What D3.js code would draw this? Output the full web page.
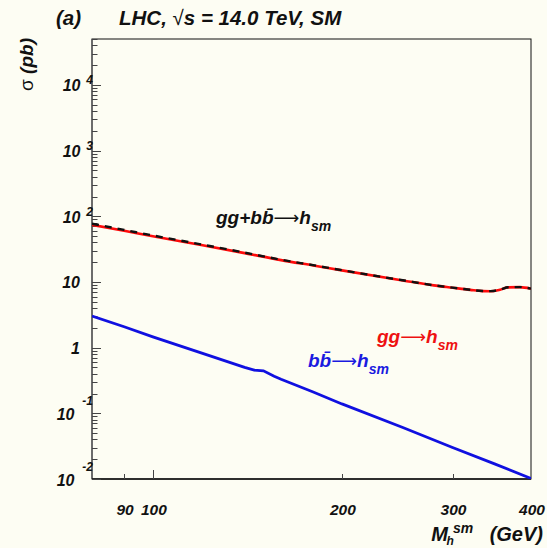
<!DOCTYPE html>
<html>
<head>
<meta charset="utf-8">
<script src="https://cdn.jsdelivr.net/npm/d3@7/dist/d3.min.js"></script>
<style>
  html, body { margin: 0; padding: 0; background: #fdfdf3; }
  svg { display: block; }
  text { font-family: "Liberation Sans", Arial, Helvetica, sans-serif; font-weight: bold; font-style: italic; }
</style>
</head>
<body>
<svg id="chart" width="547" height="548"></svg>
<script>
// Higgs production cross sections at the LHC (sqrt(s) = 14 TeV), Standard Model
const totalMass  = [80, 90, 100, 120, 140, 160, 180, 200, 250, 280, 300, 320, 335, 345, 357, 368, 384, 400];
const totalXsec  = [77, 62, 51, 37, 28, 21.8, 18.0, 15.1, 10.6, 8.9, 8.2, 7.6, 7.27, 7.25, 7.64, 8.3, 8.35, 7.9];

const ggMass     = [80, 90, 100, 120, 140, 160, 180, 200, 250, 280, 300, 320, 335, 345, 357, 368, 384, 400];
const ggXsec     = [74, 60, 49.5, 36.2, 27.5, 21.5, 17.8, 15.0, 10.55, 8.86, 8.17, 7.58, 7.25, 7.23, 7.62, 8.28, 8.33, 7.89];

const bbMass     = [80, 90, 100, 120, 140, 145, 150, 156, 160, 180, 200, 250, 300, 350, 400];
const bbXsec     = [3.03, 2.08, 1.46, 0.82, 0.50, 0.455, 0.443, 0.368, 0.330, 0.211, 0.139, 0.0607, 0.0301, 0.0170, 0.0102];

const xTickValues = [90, 100, 200, 300, 400];
const xTickLabels = ["90", "100", "200", "300", "400"];
const yMajorTicks = [1e-2, 1e-1, 1, 10, 1e2, 1e3, 1e4];

const svg = d3.select("#chart");
const W = 547, H = 548;
const m = { left: 92, right: 531, top: 39, bottom: 479 };

svg.append("rect").attr("width", W).attr("height", H).attr("fill", "#fdfdf3");

const x = d3.scaleLog().domain([80, 400]).range([m.left, m.right]);
const y = d3.scaleLog().domain([0.01, 5e4]).range([m.bottom, m.top]);

svg.append("defs").append("clipPath").attr("id", "plotClip")
  .append("rect").attr("x", m.left).attr("y", m.top)
  .attr("width", m.right - m.left).attr("height", m.bottom - m.top);

// frame
svg.append("rect")
  .attr("x", m.left).attr("y", m.top)
  .attr("width", m.right - m.left).attr("height", m.bottom - m.top)
  .attr("fill", "none").attr("stroke", "#111").attr("stroke-width", 1);

// left axis line (grey)
svg.append("line").attr("x1", m.left).attr("x2", m.left).attr("y1", m.top).attr("y2", m.bottom)
  .attr("stroke", "#666").attr("stroke-width", 1.6);
// bottom axis line
svg.append("line").attr("x1", m.left).attr("x2", m.right).attr("y1", m.bottom).attr("y2", m.bottom)
  .attr("stroke", "#111").attr("stroke-width", 1.4);

// y ticks: all 1..9 multiples per decade, pointing inwards
const yTicks = y.ticks();
const isMajor = v => Math.abs(Math.log10(v) - Math.round(Math.log10(v))) < 1e-9;
svg.append("g").selectAll("line").data(yTicks).join("line")
  .attr("x1", m.left)
  .attr("x2", d => m.left + (isMajor(d) ? 9 : 5.5))
  .attr("y1", d => Math.round(y(d)) + 0.5)
  .attr("y2", d => Math.round(y(d)) + 0.5)
  .attr("stroke", "#444").attr("stroke-width", 1);

// y tick labels: "10" with exponent
const yLab = svg.append("g");
yMajorTicks.forEach(v => {
  const e = Math.round(Math.log10(v));
  const ty = y(v);
  if (e === 0 || e === 1) {
    yLab.append("text").attr("x", 80).attr("y", ty + 6.5)
      .attr("text-anchor", "end").attr("font-size", 16).attr("fill", "#111")
      .text(e === 0 ? "1" : "10");
  } else {
    const neg = e < 0;
    yLab.append("text").attr("x", neg ? 74.5 : 80.5).attr("y", ty + 6.5)
      .attr("text-anchor", "end").attr("font-size", 16).attr("fill", "#111")
      .text("10");
    yLab.append("text").attr("x", 93).attr("y", neg ? ty - 8.5 : ty - 0.5)
      .attr("text-anchor", "end").attr("font-size", 12).attr("fill", "#111")
      .text(String(e));
  }
});

// x ticks, pointing upwards
svg.append("g").selectAll("line").data(xTickValues.filter(v => v < 400)).join("line")
  .attr("x1", d => Math.round(x(d)) + 0.5).attr("x2", d => Math.round(x(d)) + 0.5)
  .attr("y1", m.bottom).attr("y2", d => m.bottom - (d === 100 ? 9 : 5))
  .attr("stroke", "#444").attr("stroke-width", 1);

svg.append("g").selectAll("text").data(xTickValues).join("text")
  .attr("x", d => x(d) + 1).attr("y", 515)
  .attr("text-anchor", "middle").attr("font-size", 15.5).attr("fill", "#111")
  .text((d, i) => xTickLabels[i]);

// x axis title: M with subscript h and superscript sm
svg.append("text").attr("x", 448).attr("y", 541).attr("text-anchor", "end")
  .attr("font-size", 20).attr("fill", "#111").text("M");
svg.append("text").attr("x", 446.5).attr("y", 544.5).attr("font-size", 12).attr("fill", "#111").text("h");
svg.append("text").attr("x", 453).attr("y", 533).attr("font-size", 14).attr("fill", "#111")
  .attr("font-style", "normal").attr("font-weight", "normal").text("sm");
svg.append("text").attr("x", 543).attr("y", 541).attr("text-anchor", "end")
  .attr("font-size", 20).attr("fill", "#111").text("(GeV)");

// y axis title
svg.append("text")
  .attr("transform", "translate(33,38) rotate(-90)")
  .attr("text-anchor", "end").attr("font-size", 19).attr("fill", "#111")
  .call(t => {
    t.append("tspan").attr("font-style", "normal").attr("font-weight", "normal").text("σ");
    t.append("tspan").text(" (pb)");
  });

// title
svg.append("text").attr("x", 56).attr("y", 25).attr("font-size", 20.5).attr("fill", "#111").text("(a)");
svg.append("text").attr("x", 119).attr("y", 25).attr("font-size", 20.5).attr("fill", "#111")
  .call(t => {
    t.append("tspan").text("LHC, ");
    t.append("tspan").attr("font-style", "normal").attr("font-weight", "normal").text("√");
    t.append("tspan").text("s = 14.0 TeV, SM");
  });

// curves
const plot = svg.append("g").attr("clip-path", "url(#plotClip)");
const line = d3.line().x(d => x(d[0])).y(d => y(d[1]));

plot.append("path")
  .datum(ggMass.map((v, i) => [v, ggXsec[i]]))
  .attr("d", line.curve(d3.curveMonotoneX))
  .attr("fill", "none").attr("stroke", "#ff0a0a").attr("stroke-width", 2.6);

plot.append("path")
  .datum(totalMass.map((v, i) => [v, totalXsec[i]]))
  .attr("d", line.curve(d3.curveMonotoneX))
  .attr("fill", "none").attr("stroke", "#111").attr("stroke-width", 2.4)
  .attr("stroke-dasharray", "7,6");

plot.append("path")
  .datum(bbMass.map((v, i) => [v, bbXsec[i]]))
  .attr("d", line.curve(d3.curveLinear))
  .attr("fill", "none").attr("stroke", "#1010e0").attr("stroke-width", 2.8);

// process labels
function procLabel(px, py, color, parts) {
  const t = svg.append("text").attr("x", px).attr("y", py).attr("font-size", 19).attr("fill", color);
  parts.forEach(part => {
    const s = t.append("tspan").text(part.s);
    if (part.arrow) s.attr("font-family", "DejaVu Sans").attr("font-style", "normal")
      .attr("font-weight", "normal").attr("font-size", 18);
  });
  t.append("tspan").attr("dy", 7).attr("font-size", 14).text("sm");
}
procLabel(216, 224, "#111", [{ s: "gg+bb\u0304" }, { s: "\u27F6", arrow: true }, { s: "h" }]);
procLabel(377, 343, "#ee1111", [{ s: "gg" }, { s: "\u27F6", arrow: true }, { s: "h" }]);
procLabel(308, 367, "#1a1ae0", [{ s: "bb\u0304" }, { s: "\u27F6", arrow: true }, { s: "h" }]);
</script>
</body>
</html>
